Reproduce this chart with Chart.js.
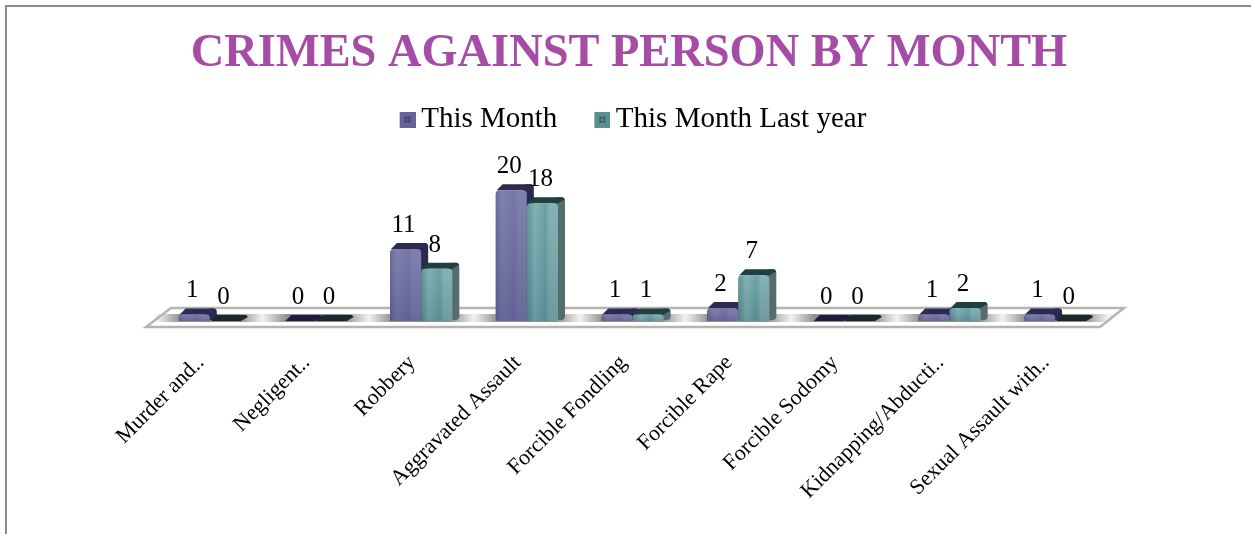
<!DOCTYPE html>
<html>
<head>
<meta charset="utf-8">
<title>Crimes against person by month</title>
<script src="https://cdn.jsdelivr.net/npm/chart.js@4"></script>
<style>
    html, body { margin: 0; padding: 0; background: #fff; overflow: hidden; }
    #frame { position: absolute; left: 5px; top: 5px; right: 0; bottom: 0; border-left: 2px solid #8c8c8c; border-top: 2px solid #8c8c8c; }
    #chart { position: absolute; left: 0; top: 0; }
</style>
</head>
<body>
<div id="frame"></div>
<canvas id="chart" width="1251" height="534"></canvas>
<script>
// ── Data ─────────────────────────────────────────────────────────
const categories = [
    "Murder and..", "Negligent..", "Robbery", "Aggravated Assault", "Forcible Fondling",
    "Forcible Rape", "Forcible Sodomy", "Kidnapping/Abducti..", "Sexual Assault with.."
];
const thisMonth    = [1, 0, 11, 20, 1, 2, 0, 1, 1];
const lastYear     = [0, 0, 8, 18, 1, 7, 0, 2, 0];
const seriesNames  = ["This Month", "This Month Last year"];

// ── Styles ───────────────────────────────────────────────────────
const SERIF = "'Liberation Serif', serif";
const DX = 7, DY = 6;
const looks = [
    { front: "#6a6a9f", top: "#2d2b52", side: "#2a2950", flat: "#1f1d3d", hi: "rgba(255,255,255,0.08)", lo: "rgba(20,20,70,0.15)" },
    { front: "#5f9a9d", top: "#203f40", side: "#566b6c", flat: "#17292b", hi: "rgba(255,255,255,0.17)", lo: "rgba(10,60,60,0.12)" }
];

// 4px blank on the left pulls the square closer to the legend text
function makeMarker(color) {
    const c = document.createElement("canvas");
    c.width = 20;
    c.height = 16;
    const g = c.getContext("2d");
    g.fillStyle = color;
    g.fillRect(4, 0, 16, 16);
    g.fillStyle = "rgba(0,0,0,0.35)";
    g.fillRect(9, 5, 6, 6);
    g.fillStyle = color;
    g.fillRect(10.5, 6.5, 3, 3);
    return c;
}
const markers = [makeMarker("#64649a"), makeMarker("#5c8f92")];

// ── 3D look, drawn from the bar elements ─────────────────────────
const bars3d = {
    id: "bars3d",
    afterLayout(chart) {
        // nudge title and legend, the reference is not quite centred
        chart.titleBlock.left -= 7;
        chart.legend.left += 6;
    },
    beforeDatasetsDraw(chart) {
        const { ctx } = chart;
        const x = chart.scales.x;
        const base = chart.scales.y.getPixelForValue(0);
        const left = chart.chartArea.left, right = chart.chartArea.right;

        // floor
        ctx.save();
        ctx.beginPath();
        ctx.moveTo(left - 11, base + 6);
        ctx.lineTo(left + 14, base - 13);
        ctx.lineTo(right + 16, base - 13);
        ctx.lineTo(right - 8, base + 6);
        ctx.closePath();
        ctx.fillStyle = "#fff";
        ctx.fill();
        const band = ctx.createLinearGradient(left, 0, right, 0);
        categories.forEach((c, i) => {
            const px = (x.getPixelForValue(i) - left) / (right - left);
            const half = 0.5 / categories.length;
            band.addColorStop(Math.max(px - half, 0), "#f2f2f2");
            band.addColorStop(px - half * 0.55, "#8f8f8f");
            band.addColorStop(px + half * 0.55, "#8f8f8f");
            band.addColorStop(Math.min(px + half, 1), "#f2f2f2");
        });
        ctx.fillStyle = band;
        ctx.fillRect(left - 2, base - 7, right - left + 6, 8);
        ctx.strokeStyle = "#b4b4b4";
        ctx.lineWidth = 2.5;
        ctx.stroke();

        // top and side faces
        chart.data.datasets.forEach((ds, d) => {
            const look = looks[d];
            chart.getDatasetMeta(d).data.forEach((bar, i) => {
                const w = bar.width / 2;
                const l = bar.x - w, r = bar.x + w, t = bar.y;
                if (ds.data[i] > 0) {
                    ctx.fillStyle = look.side;
                    ctx.beginPath();
                    ctx.roundRect(r - 4, t - DY, DX + 4, base - t + DY - 1, 4);
                    ctx.fill();
                }
                ctx.fillStyle = ds.data[i] > 0 ? look.top : look.flat;
                ctx.beginPath();
                ctx.moveTo(l + 1, t);
                ctx.lineTo(l + DX, t - DY);
                ctx.lineTo(r + DX - 2, t - DY);
                ctx.lineTo(r + DX, t - DY + 2);
                ctx.lineTo(r, t);
                ctx.closePath();
                ctx.fill();
            });
        });
        ctx.restore();
    },
    afterDatasetsDraw(chart) {
        const { ctx } = chart;
        ctx.save();
        chart.data.datasets.forEach((ds, d) => {
            const look = looks[d];
            chart.getDatasetMeta(d).data.forEach((bar, i) => {
                const w = bar.width / 2;
                const l = bar.x - w, t = bar.y;
                // sheen over the front face
                if (ds.data[i] > 0) {
                    const g = ctx.createLinearGradient(l, 0, l + bar.width, 0);
                    g.addColorStop(0, look.lo);
                    g.addColorStop(0.25, look.hi);
                    g.addColorStop(0.6, "rgba(255,255,255,0)");
                    g.addColorStop(0.72, look.hi);
                    g.addColorStop(1, look.hi);
                    ctx.fillStyle = g;
                    ctx.beginPath();
                    ctx.roundRect(l, t, bar.width, bar.base - t, [4, 4, 2, 2]);
                    ctx.fill();
                    const v = ctx.createLinearGradient(0, t, 0, bar.base);
                    v.addColorStop(0, "rgba(255,255,255,0.08)");
                    v.addColorStop(1, "rgba(0,0,40,0.1)");
                    ctx.fillStyle = v;
                    ctx.fill();
                }
                // value label
                ctx.fillStyle = "#000";
                ctx.font = "25px " + SERIF;
                ctx.textAlign = "center";
                ctx.textBaseline = "alphabetic";
                ctx.fillText(String(ds.data[i]), bar.x - 2, t - 17);
            });
        });
        ctx.restore();
    }
};

// ── Chart ────────────────────────────────────────────────────────
new Chart(document.getElementById("chart"), {
    type: "bar",
    plugins: [bars3d],
    data: {
        labels: categories,
        datasets: [
            { label: seriesNames[0], data: thisMonth, backgroundColor: looks[0].front, borderRadius: { topLeft: 4, topRight: 4 }, borderSkipped: false },
            { label: seriesNames[1], data: lastYear,  backgroundColor: looks[1].front, borderRadius: { topLeft: 4, topRight: 4 }, borderSkipped: false }
        ]
    },
    options: {
        responsive: false,
        animation: false,
        layout: { padding: { left: 157, right: 143, top: 0, bottom: 0 } },
        barPercentage: 1,
        categoryPercentage: 0.59,
        plugins: {
            tooltip: { enabled: false },
            title: {
                display: true,
                text: "CRIMES AGAINST PERSON BY MONTH",
                color: "#a64ca6",
                font: { family: SERIF, size: 46.4, weight: "bold" },
                padding: { top: 26, bottom: -18.5 }
            },
            legend: {
                display: true,
                labels: {
                    color: "#000",
                    font: { family: SERIF, size: 29 },
                    usePointStyle: true,
                    boxWidth: 2,
                    boxHeight: 16,
                    padding: 42,
                    generateLabels: (chart) =>
                        seriesNames.map((name, i) => ({
                            text: name,
                            pointStyle: markers[i],
                            fontColor: "#000",
                            datasetIndex: i
                        }))
                }
            }
        },
        scales: {
            x: {
                grid: { display: false },
                border: { display: false },
                afterFit: (scale) => { scale.height = 213; },
                ticks: {
                    color: "#000",
                    font: { family: SERIF, size: 22 },
                    autoSkip: false,
                    minRotation: 45,
                    maxRotation: 45,
                    padding: 21,
                    labelOffset: -9
                }
            },
            y: {
                display: false,
                min: 0,
                max: 27.05
            }
        }
    }
});
</script>
</body>
</html>
